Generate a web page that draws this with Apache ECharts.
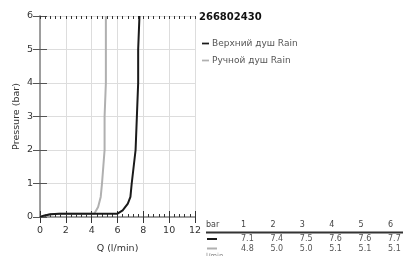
<!DOCTYPE html>
<html><head><meta charset="utf-8">
<script src="https://cdn.jsdelivr.net/npm/echarts@6/dist/echarts.min.js"></script>
<style>html,body{margin:0;padding:0;background:#fff}#c{width:403px;height:256px}</style>
</head><body><div id="c"></div>
<script>
const productCode = "266802430";
const seriesNames = ["Верхний душ Rain", "Ручной душ Rain"];
const topShowerQ = [0, 0.3, 0.8, 1.5, 6.0, 6.4, 6.8, 7.0, 7.1, 7.25, 7.4, 7.5, 7.6, 7.6, 7.7];
const topShowerP = [0, 0.04, 0.08, 0.1, 0.1, 0.2, 0.4, 0.6, 1.0, 1.5, 2, 3, 4, 5, 6];
const handShowerQ = [0, 0.3, 0.8, 1.5, 4.2, 4.5, 4.7, 4.8, 4.9, 5.0, 5.0, 5.1, 5.1, 5.1];
const handShowerP = [0, 0.04, 0.08, 0.1, 0.1, 0.3, 0.6, 1.0, 1.5, 2, 3, 4, 5, 6];
const tablePressures = [1, 2, 3, 4, 5, 6];
const tableTopQ = ["7.1", "7.4", "7.5", "7.6", "7.6", "7.7"];
const tableHandQ = ["4.8", "5.0", "5.0", "5.1", "5.1", "5.1"];
const colors = ["#1a1a1a", "#b0b0b0"];

const FONT = "DejaVu Sans";
const chart = echarts.init(document.getElementById('c'));

const graphics = [];
const col0 = 241, colStep = 29.4;
graphics.push({type:'text', left:206, top:221, style:{text:'bar', font:'8px "DejaVu Sans"', fill:'#444'}});
tablePressures.forEach((p,i)=>{
  graphics.push({type:'text', left:col0+i*colStep, top:221, style:{text:String(p), font:'8px "DejaVu Sans"', fill:'#444'}});
});
graphics.push({type:'line', shape:{x1:206,y1:232.5,x2:403,y2:232.5}, style:{stroke:'#333', lineWidth:2}});
[tableTopQ, tableHandQ].forEach((row,r)=>{
  const y = 235 + r*9.5;
  graphics.push({type:'line', shape:{x1:207,y1:y+4,x2:217,y2:y+4}, style:{stroke:colors[r], lineWidth:2}});
  row.forEach((v,i)=>{
    graphics.push({type:'text', left:col0+i*colStep, top:y, style:{text:v, font:'8px "DejaVu Sans"', fill:'#555'}});
  });
});
graphics.push({type:'text', left:206, top:253, style:{text:'l/min', font:'7px "DejaVu Sans"', fill:'#888'}});

function minorAxis(pos){
  return {type:'value', position:pos, min:0, max:12, interval:0.4,
    axisLine:{show:false}, axisLabel:{show:false}, splitLine:{show:false},
    axisTick:{show:true, inside:true, length:3, lineStyle:{color:'#333'}}};
}

chart.setOption({
  animation:false,
  textStyle:{fontFamily:FONT},
  title:{text:productCode, left:199, top:12, padding:0, textStyle:{fontFamily:FONT, fontSize:10, fontWeight:'bold', color:'#111'}},
  legend:{orient:'vertical', left:197, top:34, itemWidth:7, itemHeight:10, itemGap:8,
    data:seriesNames.map((n,i)=>({name:n, icon:'path://M0,4h8v2h-8z'})),
    textStyle:{fontFamily:FONT, fontSize:9, color:'#555', padding:[0,0,0,-2]}},
  grid:{left:40, right:208, top:16, bottom:39, containLabel:false, outerBoundsMode:'none'},
  xAxis:[{type:'value', position:'bottom', min:0, max:12, interval:2, name:'Q (l/min)', nameLocation:'middle', nameGap:27,
      nameTextStyle:{fontFamily:FONT, fontSize:9.5, color:'#333'},
      axisLine:{show:true, onZero:false, lineStyle:{color:'#999', width:1.5}},
      axisTick:{show:true, inside:true, length:6, lineStyle:{color:'#333'}},
      axisLabel:{fontFamily:FONT, fontSize:9.5, color:'#333', margin:9},
      splitLine:{show:true, lineStyle:{color:'#dddddd', width:1}}},
    {type:'value', position:'top', min:0, max:12, interval:2,
      axisLine:{show:true, lineStyle:{color:'#999', width:1.5}},
      axisTick:{show:true, inside:true, length:6, lineStyle:{color:'#333'}},
      axisLabel:{show:false}, splitLine:{show:false}},
    minorAxis('bottom'), minorAxis('top')],
  yAxis:[{type:'value', min:0, max:6, interval:1, name:'Pressure (bar)', nameLocation:'middle', nameGap:18,
      nameTextStyle:{fontFamily:FONT, fontSize:9.5, color:'#333'},
      axisLine:{show:true, onZero:false, lineStyle:{color:'#999', width:1.5}},
      axisTick:{show:true, inside:true, length:7, lineStyle:{color:'#555'}},
      axisLabel:{fontFamily:FONT, fontSize:9.5, color:'#333', margin:7},
      splitLine:{show:true, lineStyle:{color:'#dddddd', width:1}}},
    {type:'value', position:'right', min:0, max:6, interval:1,
      axisLine:{show:true, lineStyle:{color:'#999', width:1.5}},
      axisTick:{show:true, inside:true, length:7, lineStyle:{color:'#555'}},
      axisLabel:{show:false}, splitLine:{show:false}}],
  series:[
    {name:seriesNames[0], type:'line', xAxisIndex:0, yAxisIndex:0, showSymbol:false, symbol:'none', color:colors[0],
      lineStyle:{width:2, color:colors[0]}, data:topShowerQ.map((q,i)=>[q, topShowerP[i]]), z:3},
    {name:seriesNames[1], type:'line', xAxisIndex:0, yAxisIndex:0, showSymbol:false, symbol:'none', color:colors[1],
      lineStyle:{width:2, color:colors[1]}, data:handShowerQ.map((q,i)=>[q, handShowerP[i]]), z:2}
  ],
  graphic:graphics
});
</script></body></html>
